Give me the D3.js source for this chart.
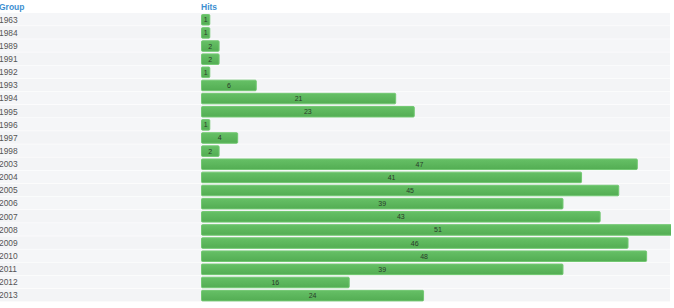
<!DOCTYPE html>
<html>
<head>
<meta charset="utf-8">
<script src="https://cdn.jsdelivr.net/npm/d3@7"></script>
<style>
  body { margin: 0; background: #fff; }
  svg { display: block; font-family: "Liberation Sans", Arial, sans-serif; }
</style>
</head>
<body>
<script>
var groups = ["1963", "1984", "1989", "1991", "1992", "1993", "1994", "1995", "1996", "1997", "1998",
              "2003", "2004", "2005", "2006", "2007", "2008", "2009", "2010", "2011", "2012", "2013"];
var hits = [1, 1, 2, 2, 1, 6, 21, 23, 1, 4, 2, 47, 41, 45, 39, 43, 51, 46, 48, 39, 16, 24];
var headers = ["Group", "Hits"];

var width = 674, height = 308;

var svg = d3.select("body").append("svg")
    .attr("width", width)
    .attr("height", height);

var defs = svg.append("defs");
var grad = defs.append("linearGradient")
    .attr("id", "barGrad")
    .attr("x1", 0).attr("y1", 0).attr("x2", 0).attr("y2", 1);
grad.append("stop").attr("offset", "0%").attr("stop-color", "#66c066");
grad.append("stop").attr("offset", "100%").attr("stop-color", "#53ad53");

// table is narrower than the widest bar, so it gets cut
defs.append("clipPath").attr("id", "tableClip")
  .append("rect")
    .attr("x", 0).attr("y", 0)
    .attr("width", 671).attr("height", height);

var y = d3.scaleBand()
    .domain(groups)
    .range([13, 302]);

var x = d3.scaleLinear()
    .domain([0, d3.max(hits)])
    .range([0, 474]);

var barX = 201;

// row backgrounds
svg.selectAll("rect.row")
    .data(groups)
    .enter()
    .append("rect")
    .attr("class", "row")
    .attr("x", 0)
    .attr("y", function (d) { return y(d); })
    .attr("width", 670)
    .attr("height", y.bandwidth() - 0.6)
    .style("fill", function (d, i) { return i % 2 ? "#f3f4f6" : "#f5f6f8"; });

// header
svg.selectAll("text.head")
    .data(headers)
    .enter()
    .append("text")
    .attr("class", "head")
    .attr("x", function (d, i) { return i ? barX : -1; })
    .attr("y", 10)
    .style("font-size", "8.5px")
    .style("font-weight", "bold")
    .style("fill", "#3d8fd1")
    .text(function (d) { return d; });

// group labels
svg.selectAll("text.group")
    .data(groups)
    .enter()
    .append("text")
    .attr("class", "group")
    .attr("x", -1)
    .attr("y", function (d) { return y(d) + y.bandwidth() / 2 + 3; })
    .style("font-size", "8.4px")
    .style("fill", "#555")
    .text(function (d) { return d; });

var barLayer = svg.append("g").attr("clip-path", "url(#tableClip)");

// bars
barLayer.selectAll("rect.bar")
    .data(hits)
    .enter()
    .append("rect")
    .attr("class", "bar")
    .attr("x", barX + 0.5)
    .attr("y", function (d, i) { return y(groups[i]) + 1.5; })
    .attr("width", function (d) { return x(d) - 1; })
    .attr("height", y.bandwidth() - 2.6)
    .attr("rx", 1)
    .style("fill", "url(#barGrad)")
    .style("stroke", "#72c872")
    .style("stroke-width", 1);

// bar labels
barLayer.selectAll("text.val")
    .data(hits)
    .enter()
    .append("text")
    .attr("class", "val")
    .attr("x", function (d) { return barX + x(d) / 2; })
    .attr("y", function (d, i) { return y(groups[i]) + y.bandwidth() / 2 + 2.7; })
    .attr("text-anchor", "middle")
    .style("font-size", "7px")
    .style("fill", "#2a3a2a")
    .text(function (d) { return d; });
</script>
</body>
</html>
